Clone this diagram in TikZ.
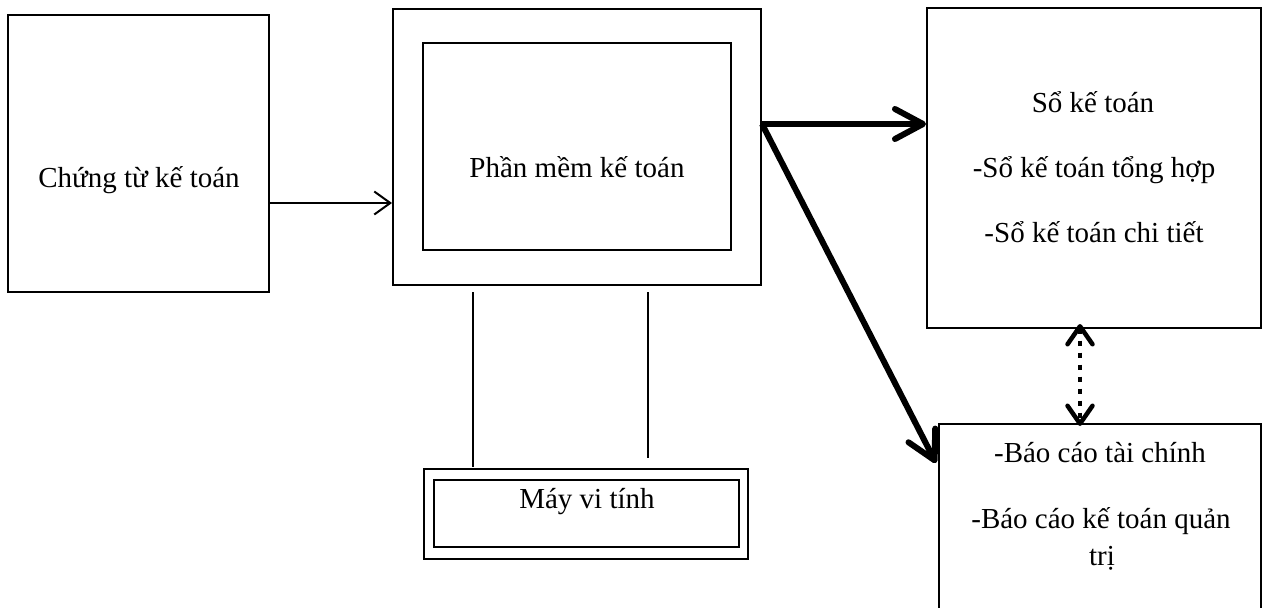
\documentclass[tikz,border=0pt]{standalone}
\usepackage{fontspec}
\setmainfont{Liberation Serif}
\usetikzlibrary{arrows.meta}
\begin{document}
\begin{tikzpicture}[x=1pt,y=-1pt,
  box/.style={draw,line width=2pt,inner sep=0pt,minimum width=#1},
  lbl/.style={anchor=base,inner sep=0pt,font=\fontsize{29pt}{35pt}\selectfont},
  thin/.style={line width=2pt,-{Straight Barb[length=16pt,width=23pt]}},
  thick/.style={line width=6pt,-{Straight Barb[length=28pt,width=30pt,round]}},
  dotarrow/.style={line width=4.5pt,dash pattern=on 5pt off 7pt,
    {Straight Barb[length=18pt,width=25pt,round]}-{Straight Barb[length=18pt,width=25pt,round]}}]
\useasboundingbox (0,0) rectangle (1267,608);
% boxes
\node[box=261pt,minimum height=277pt] (lb) at (138.5,153.5) {};
\node[box=368pt,minimum height=276pt] (mon) at (577,147) {};
\node[box=308pt,minimum height=207pt] (scr) at (577,146.5) {};
\node[box=324pt,minimum height=90pt] (pc) at (586,514) {};
\node[box=305pt,minimum height=67pt] (pcin) at (586.5,513.5) {};
\node[box=334pt,minimum height=320pt] (so) at (1094,168) {};
\node[box=322pt,minimum height=216pt] (bc) at (1100,532) {};
% labels
\node[lbl] (t1) at (139,187) {Chứng từ kế toán};
\node[lbl] (t2) at (577,177) {Phần mềm kế toán};
\node[lbl] (t3) at (587,508) {Máy vi tính};
\node[lbl] (t4) at (1093,112) {Sổ kế toán};
\node[lbl] (t5) at (1094,177) {-Sổ kế toán tổng hợp};
\node[lbl] (t6) at (1094,242) {-Sổ kế toán chi tiết};
\node[lbl] (t7) at (1100,462) {-Báo cáo tài chính};
\node[lbl] (t8) at (1101,528) {-Báo cáo kế toán quản};
\node[lbl] (t9) at (1102,565) {trị};
% helper coordinates
\coordinate (ya) at (0,203);
\coordinate (yb) at (0,124);
\coordinate (yc) at (0,463);
\coordinate (xd) at (1080,0);
\coordinate (s1) at (473,292);
\coordinate (e1) at (473,467);
\coordinate (s2) at (648,292);
\coordinate (e2) at (648,458);
% connectors
\draw[thin] (lb.east |- ya) -- (mon.west |- ya);
\draw[thick] (mon.east |- yb) -- (so.west |- yb);
\draw[thick] (mon.east |- yb) -- ([xshift=-2pt]bc.west |- yc);
\draw[dotarrow] ([yshift=5pt]so.south -| xd) -- ([yshift=-3pt]bc.north -| xd);
\draw[line width=1.8pt] (s1) -- (e1);
\draw[line width=1.8pt] (s2) -- (e2);
\end{tikzpicture}
\end{document}
